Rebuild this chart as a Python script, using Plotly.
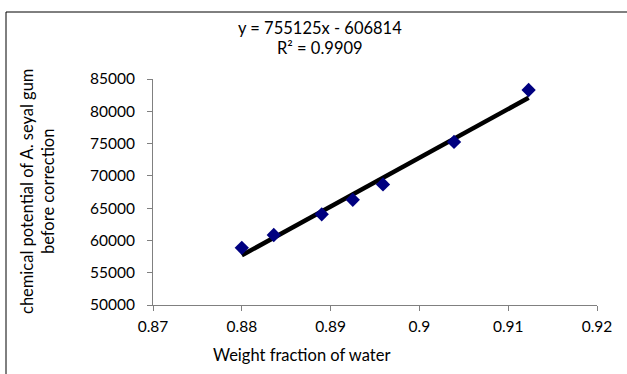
import plotly.graph_objects as go

x_water = [0.8800, 0.8836, 0.8890, 0.8925, 0.8959, 0.9039, 0.9123]
mu_gum = [58850, 60840, 64050, 66290, 68670, 75250, 83300]
slope = 755125
intercept = -606814
r2 = 0.9909
x_ticks = [0.87, 0.88, 0.89, 0.90, 0.91, 0.92]
x_tick_labels = ["0.87", "0.88", "0.89", "0.9", "0.91", "0.92"]
y_ticks = [50000, 55000, 60000, 65000, 70000, 75000, 80000, 85000]

fit_x = [min(x_water), max(x_water)]
fit_y = [slope * v + intercept for v in fit_x]

W, H = 627, 374
L, R, T, B = 153, 30, 79, 69
pw, ph = W - L - R, H - T - B

def px_x(p):
    return (p - L) / pw

def px_y(p):
    return (H - B - p) / ph

title_font = dict(family="Lato, Liberation Sans, sans-serif", size=16.5, color="#000000")
tick_font = dict(family="Lato, Liberation Sans, sans-serif", size=15.5, color="#000000")

fig = go.Figure()
fig.add_trace(go.Scatter(x=fit_x, y=fit_y, mode="lines",
                         line=dict(color="#000000", width=4.5), showlegend=False))
fig.add_trace(go.Scatter(x=x_water, y=mu_gum, mode="markers",
                         marker=dict(symbol="diamond", size=11, color="#000080",
                                     line=dict(width=0)), showlegend=False))

fig.update_layout(
    width=W, height=H, margin=dict(l=L, r=R, t=T, b=B),
    paper_bgcolor="white", plot_bgcolor="white", font=title_font,
    xaxis=dict(range=[0.87, 0.92], tickvals=x_ticks, ticktext=x_tick_labels,
               showgrid=False, zeroline=False, showline=True, linecolor="#808080",
               linewidth=1, ticks="outside", ticklen=5, tickcolor="#808080",
               tickfont=tick_font, ticklabelstandoff=2),
    yaxis=dict(range=[50000, 85000], tickvals=y_ticks, showgrid=False, zeroline=False,
               showline=True, linecolor="#808080", linewidth=1, ticks="outside",
               ticklen=5, tickcolor="#808080", tickfont=tick_font, tickformat="d",
               ticklabelstandoff=9),
)

# outer chart border (left and top visible)
fig.add_shape(type="rect", xref="paper", yref="paper",
              x0=px_x(6), x1=px_x(640), y0=px_y(12), y1=px_y(390),
              line=dict(color="#000000", width=1), layer="below")

fig.add_annotation(text=f"y = {slope}x - {abs(intercept)}", xref="paper", yref="paper",
                   x=px_x(320), y=px_y(28), showarrow=False, font=title_font,
                   xanchor="center", yanchor="middle")
fig.add_annotation(text=f"R² = {r2}", xref="paper", yref="paper",
                   x=px_x(320), y=px_y(48), showarrow=False, font=title_font,
                   xanchor="center", yanchor="middle")
fig.add_annotation(text="Weight fraction of water", xref="paper", yref="paper",
                   x=px_x(301), y=px_y(355), showarrow=False, font=title_font,
                   xanchor="center", yanchor="middle")
fig.add_annotation(text="chemical potential of A. seyal gum<br>before correction",
                   xref="paper", yref="paper", x=px_x(37), y=px_y(192),
                   showarrow=False, font=title_font, textangle=-90,
                   xanchor="center", yanchor="middle")

fig.write_html("out.html")
